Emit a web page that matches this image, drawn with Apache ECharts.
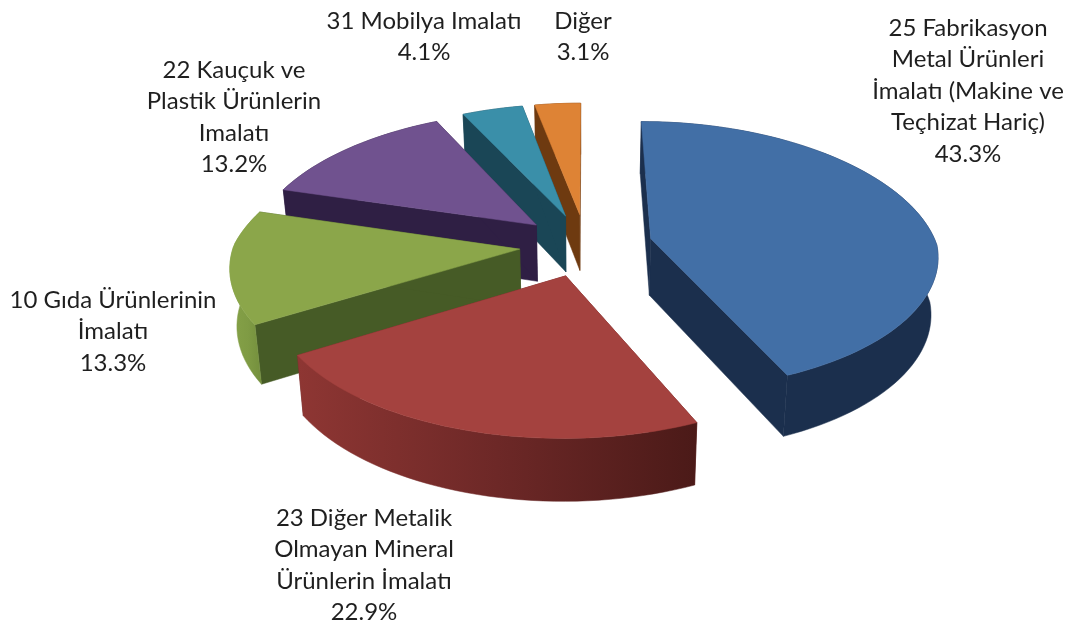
<!DOCTYPE html>
<html><head><meta charset="utf-8">
<style>html,body{margin:0;padding:0;background:#fff}#c{width:1075px;height:628px}</style>
<script src="https://cdn.jsdelivr.net/npm/echarts@6/dist/echarts.min.js"></script>
</head><body><div id="c"></div>
<script>
// Data
var categories = [
  '25 Fabrikasyon\nMetal Ürünleri\nİmalatı (Makine ve\nTeçhizat Hariç)',
  '23 Diğer Metalik\nOlmayan Mineral\nÜrünlerin İmalatı',
  '10 Gıda Ürünlerinin\nİmalatı',
  '22 Kauçuk ve\nPlastik Ürünlerin\nImalatı',
  '31 Mobilya Imalatı',
  'Diğer'
];
var values = [43.3, 22.9, 13.3, 13.2, 4.1, 3.1];

// Styles
var topColors  = ['#426fa6', '#a4423f', '#8ba64a', '#70528f', '#3a8fa9', '#de8335'];
var faceColors = ['#1b2f4d', '#6d2827', '#465b26', '#2f1f44', '#1a4656', '#6e3a10'];
var wallStops  = [
  ['#1b2f4d', '#1b2f4d', '#1b2f4d'],
  ['#8e3633', '#6d2827', '#4b1a18'],
  ['#86a248', '#7f9b44', '#6f8a3a'],
  ['#2f1f44', '#2f1f44', '#2f1f44'],
  ['#1a4656', '#1a4656', '#1a4656'],
  ['#6e3a10', '#6e3a10', '#6e3a10']
];
var paintOrder = [1, 6, 5, 4, 3, 2];
var labelCenters = [[968, 28], [364, 518], [113, 300], [234, 70], [424, 21], [583, 21]];
var lineStep = 31.5;

// Projection of the tilted pie
var X0 = 586, Y0 = 245, A = 286, B = 135, EXPLODE = 0.233, DEPTH = 57, BOTTOM_SHRINK = 0.98;
function project(U, V, down) {
  var kx = V < 0 ? 0.17 : 0.115;
  var ky = V < 0 ? 0.14 : 0.12;
  var x = X0 + A * U / (1 - kx * V);
  var w = 1 - ky * V;
  var y = Y0 + B * V / w;
  if (down) {
    x = X0 + (x - X0) * BOTTOM_SHRINK;
    y = Y0 + (y - Y0) * BOTTOM_SHRINK + DEPTH / w;
  }
  return [x, y];
}
var total = values.reduce(function (a, b) { return a + b; }, 0);

function sliceShapes(i) {
  var start = 0;
  for (var j = 0; j < i; j++) start += values[j] / total * 360;
  var end = start + values[i] / total * 360;
  var mid = (start + end) / 2 * Math.PI / 180;
  var ox = EXPLODE * Math.sin(mid), oy = -EXPLODE * Math.cos(mid);
  function pt(deg, down) {
    var t = deg * Math.PI / 180;
    return project(ox + Math.sin(t), oy - Math.cos(t), down);
  }
  var apexT = project(ox, oy, false), apexB = project(ox, oy, true);
  var top = [apexT], arcT = [], arcB = [];
  var steps = Math.max(4, Math.ceil((end - start) / 2));
  for (var s = 0; s <= steps; s++) {
    var d = start + (end - start) * s / steps;
    var p = pt(d, false);
    top.push(p); arcT.push(p); arcB.push(pt(d, true));
  }
  return {
    top: top,
    wall: arcT.concat(arcB.slice().reverse()),
    faceA: [apexT, arcT[0], arcB[0], apexB],
    faceB: [apexT, arcT[steps], arcB[steps], apexB]
  };
}

function renderItem(params) {
  var i = params.dataIndex, s = sliceShapes(i), z = paintOrder[i] * 10;
  var grad = new echarts.graphic.LinearGradient(0, 0, 1, 0, [
    { offset: 0, color: wallStops[i][0] },
    { offset: 0.5, color: wallStops[i][1] },
    { offset: 1, color: wallStops[i][2] }
  ]);
  function poly(points, fill, dz) {
    return { type: 'polygon', z2: z + dz, shape: { points: points },
      style: { fill: fill, stroke: fill, lineWidth: 0.5 } };
  }
  var lines = categories[i].split('\n').concat([values[i].toFixed(1) + '%']);
  var texts = lines.map(function (t, n) {
    return { type: 'text', z2: 200, x: labelCenters[i][0], y: labelCenters[i][1] + n * lineStep,
      style: { text: t, fill: '#1f1f1f', font: '24px Lato', textAlign: 'center', textVerticalAlign: 'middle' } };
  });
  return { type: 'group', children: [
    poly(s.faceA, faceColors[i], 1),
    poly(s.faceB, faceColors[i], 1),
    poly(s.wall, grad, 2),
    poly(s.top, topColors[i], 3)
  ].concat(texts) };
}

var chart = echarts.init(document.getElementById('c'), null, { renderer: 'canvas' });
chart.setOption({
  backgroundColor: '#ffffff',
  animation: false,
  series: [{
    type: 'custom',
    coordinateSystem: 'none',
    renderItem: renderItem,
    data: values.map(function (v, i) { return { name: categories[i], value: v }; })
  }]
});
</script></body></html>
